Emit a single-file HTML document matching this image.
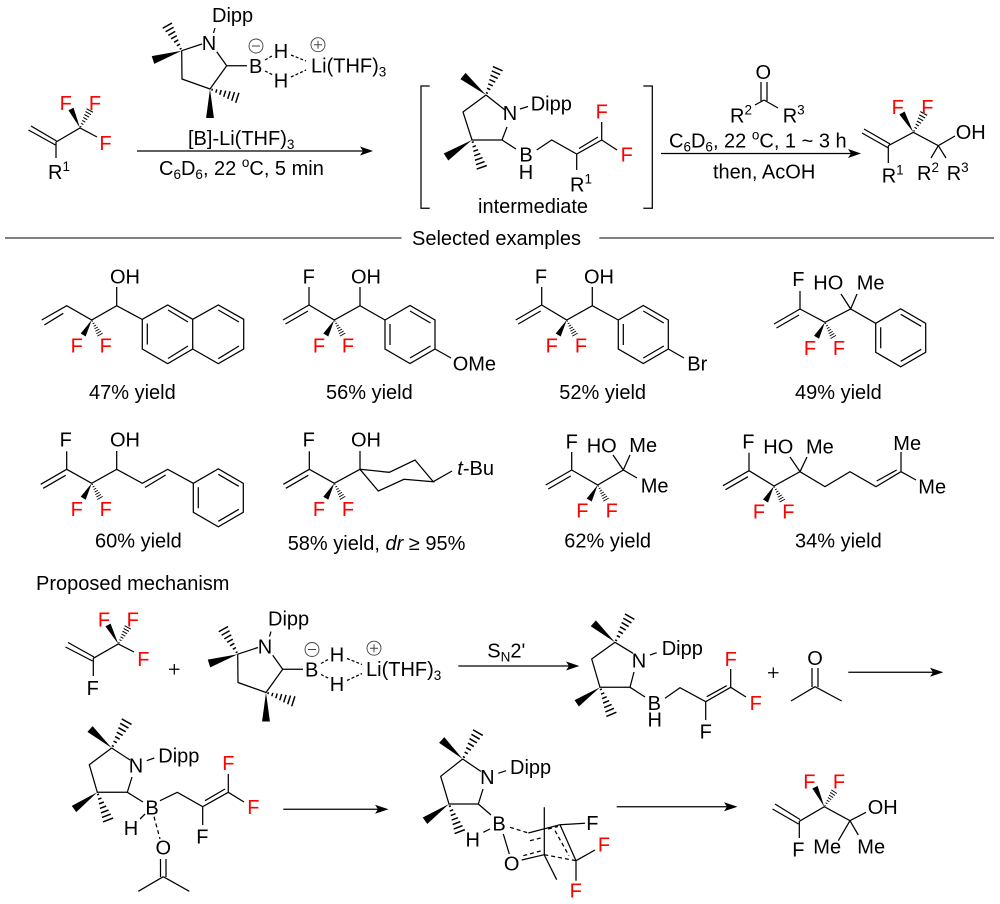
<!DOCTYPE html>
<html><head><meta charset="utf-8"><title>Diagram</title>
<style>
html,body{margin:0;padding:0;background:#fff}
svg{display:block}
text{font-family:"Liberation Sans",Arial,sans-serif;font-size:20px;fill:#000}
.m{text-anchor:middle}
.r{fill:#f00}
.s{font-size:13.5px}
.l line,.l polyline,.l path,.l use{stroke:#000;stroke-width:1.25;fill:none}
.d{stroke-dasharray:4 3}
.a{fill:#000;stroke:none}
</style></head><body>
<svg width="1000" height="904" viewBox="0 0 1000 904" xmlns="http://www.w3.org/2000/svg">
<defs>
<polygon id="w" points="0,0 20,-2.7 20,2.7" fill="#000" stroke="none"/>
<g id="h" stroke="#000" stroke-width="1" fill="none">
<path d="M1.5,-.7V.7M4.5,-1.2V1.2M7.5,-1.7V1.7M10.5,-2.2V2.2M13.5,-2.7V2.7M16.5,-3.1V3.1M19.5,-3.6V3.6"/>
</g>
<g id="cf"><polygon points="0,0 -11,13.5 -6,16.5" fill="#000"/><use href="#h" transform="matrix(.425 .75 -.75 .425 0 0)"/></g>
<g id="vf" stroke="#000" stroke-width="1.25" fill="none"><path d="M0,0L-26,15M-1,6L-23.5,19M0,0V-18"/></g>
<g id="ph" stroke="#000" stroke-width="1.25" fill="none"><path d="M0,0L25,-14.5L50,0V29L25,43.5L0,29ZM5,4V25M25,-9L45.5,3M45.5,26L25,38"/></g>
</defs>

<g class="l">
<!-- rules -->
<path d="M5,238H401.5M599.3,238H994" style="stroke:#333;stroke-width:1.3"/>
<!-- SM -->
<path d="M28.5,130L55.5,145M31,126L56.5,141M56,142L80,128L97,137M56,142V158"/>
<!-- brackets -->
<path d="M429.7,86H421V208.3H429.7M643.3,86H652.3V208.3H643.3"/>
<!-- arrows -->
<path d="M137,151H365M661,153.5H853M458.3,666H572M848.3,672.3H936M283.3,809.3H381M616.7,806.7H730"/>
<!-- intermediate -->
<path d="M486,95L505,110M486,95L463,112L472,140H502L507,127M502,140L516,149M520,109L528,106.5M536.7,150L551.7,140L576.7,154L601.7,140M579,148.5L598,137M576.7,154V170M601.7,140V122M601.7,140L617,150"/>
<!-- ketone -->
<path d="M761,82V101M767,82V101M764,100L755,105M764,100L778,108"/>
<!-- product -->
<path d="M862,133L888.5,148M864,129L890,144M888.3,145.7L913.3,132.3L938.3,145.7L955,136M888.3,145.7V163M938.3,145.7L931,158M938.3,145.7L946,158"/>
<!-- ex1 -->
<path d="M41.7,320L66.7,305.7L91.7,320L116.7,305.7L142.3,319.5M44.3,325L63.3,313.3M116.7,305.7V287"/>
<path d="M142.3,319.3L167.7,305L192.7,319.3V349L167.7,363.7L142.3,349ZM192.7,319.3L218.3,305L243.7,319.3V349L218.3,363.7L192.7,349M147.3,323.5V344.5M168,310L188,322M188,346L168,358.5M218.3,310L239,322M239,346L218.3,358.7"/>
<!-- ex2 -->
<path d="M309,305L334.3,320L360,305.7L385,320M360,305.7V287M435,349L451,358"/>
<!-- ex3 -->
<path d="M541.7,305L566.7,320L592.3,305.7L618.3,320M592.3,305.7V287M668.3,349L684,358"/>
<!-- ex4 -->
<path d="M800,309L825,322.3L850.7,309L875.7,323.3M850.7,309L841,294M850.7,309L857,294"/>
<!-- ex5 -->
<path d="M66.7,469.3L91.7,483.3L116.7,469.3L142.3,483.3L167.7,469.3L193.3,483.3M116.7,469.3V451M145,487.5L165.7,475"/>
<!-- ex6 -->
<path d="M309.3,469.3L334.3,483.3L360,469.3L389.3,472.3L415,460L433.3,481.7L404,479.3L378.3,491L360,469.3M360,469.3V451M433.3,481.7L452,471"/>
<!-- ex7 -->
<path d="M571.7,470L597.7,485L623.3,470L637,478M623.3,470L613,455M623.3,470L630,455"/>
<!-- ex8 -->
<path d="M749,470.7L774,486L800,471.7L825,486.7L850,471.7L876,486.7L901,471.7V452M901,471.7L916,480M800,471.7L790,457M800,471.7L807,457M876.7,481L896.7,470"/>
<!-- mech CF3 -->
<path d="M65.5,647L92.5,661M68,642.5L94,657M93.3,658.3L118.3,644L134,652M93.3,658.3V676"/>
<path d="M174.3,664V674.5M169,669.3H179.5"/>
<!-- mech int -->
<path d="M615,642.3L633,653.3M615,642.3L591.7,659L600,687.3H630L634,672M630,687.3L645,697M650,655L656.7,652.7M665,698.3L680,687.7L705.7,701.7L730.7,687.3M706.7,696.7L726.7,685.7M705.7,701.7V720M730.7,687.3V669M730.7,687.3L746,697"/>
<path d="M773.3,667.5V678M768,672.7H778.5"/>
<path d="M812,668V687M818,668V687M815,686.7L791,701M815,686.7L841.7,701"/>
<!-- row 3 left -->
<path d="M111.7,748L130,760M111.7,748L89.3,764.7L97.3,792.3H127.3L132,777M127.3,792.3L143,802M146.7,760.7L154.3,758M160,800.7L177.3,792.3L202.7,806.7L228.3,792.3M205,800.7L225,789M202.7,806.7V825M228.3,792.3V774M228.3,792.3L244,802"/>
<path d="M140,819L145,814"/><path class="d" d="M154,816.7L160,839"/>
<path d="M160.5,859V877M166,859V877M163.3,876.7L138.3,891.3M163.3,876.7L189.3,891.3"/>
<!-- TS -->
<path d="M462.7,759L481,771.5M462.7,759L440.7,776.3L449,804H478.3L483,789M478.3,804L491,815M498.3,773.3L506,770.7M483.3,832.3L490,829M503.3,834L509.3,854"/>
<path d="M528.3,833L560,824.7L585,823.3M560,824.7L576,860.7L595,850M576,860.7V880.7M544.3,807.3V855L556.7,879.7M521.7,860L544.3,854.7"/>
<path class="d" d="M510,827.3L528.3,833M555,830.7L569,855.7M523.3,855.7L541.7,850.7M530,840.7L543.3,837.3M548,829L558,826.5M544.3,854.7L576,860.7"/>
<!-- final -->
<path d="M772.5,809L798.5,824M775,804L800,819.5M799.3,821.3L824.3,806.7L850,820.7L866,812.3M799.3,821.3V838M850,820.7L838.3,840.7M850,820.7L858.3,835"/>
<!-- reagent 1 & 2 -->
<path d="M213.5,33L215,28M181.7,50.7L202,44M181.7,50.7L182,79L210,89L226.7,65.7L216.7,51.7M226.7,65.7H247"/>
<path transform="translate(56,603.5)" d="M213.5,33L215,28M181.7,50.7L202,44M181.7,50.7L182,79L210,89L226.7,65.7L216.7,51.7M226.7,65.7H247"/>
<path stroke-dasharray="3 2" d="M265,60L272,56M265,71L273,75M291,55L306,61M291,77L306,70"/>
<path transform="translate(56,603.5)" stroke-dasharray="3 2" d="M265,60L272,56M265,71L273,75M291,55L306,61M291,77L306,70"/>
</g>
<circle cx="256" cy="46" r="7" fill="none" stroke="#444" stroke-width=".9"/><path d="M252,46H260" stroke="#444"/>
<circle cx="318" cy="44.7" r="7" fill="none" stroke="#444" stroke-width=".9"/><path d="M314,44.7H322M318,40.7V48.7" stroke="#444"/>
<circle cx="312" cy="649.5" r="7" fill="none" stroke="#444" stroke-width=".9"/><path d="M308,649.5H316" stroke="#444"/>
<circle cx="374" cy="648.2" r="7" fill="none" stroke="#444" stroke-width=".9"/><path d="M370,648.2H378M374,644.2V652.2" stroke="#444"/>

<!-- arrow heads -->
<polygon class="a" points="373,151 360,146.5 363,151 360,155.5"/>
<polygon class="a" points="861,153.5 848,149 851,153.5 848,158"/>
<polygon class="a" points="579.3,666 566,661.5 569,666 566,670.5"/>
<polygon class="a" points="943.3,672.3 930,667.8 933,672.3 930,676.8"/>
<polygon class="a" points="388.5,809.3 375,804.8 378,809.3 375,813.8"/>
<polygon class="a" points="737.5,806.7 724,802.2 727,806.7 724,811.2"/>

<!-- wedges and hashes -->
<use href="#w" transform="matrix(-.45 -.95 .95 -.45 80 128)"/><use href="#h" transform="matrix(.5 -.9 .9 .5 80 128)"/>
<use href="#w" transform="matrix(-1.435 .465 -.465 -1.435 181.7 50.7)"/><use href="#h" transform="matrix(-.735 -1.285 1.285 -.735 181.7 50.7)"/>
<use href="#w" transform="matrix(0 1.45 -1.45 0 210 89)"/><use href="#h" transform="matrix(1.4 .45 -.45 1.4 210 89)"/>
<use href="#w" transform="matrix(-1.435 .465 -.465 -1.435 237.7 654.2)"/><use href="#h" transform="matrix(-.735 -1.285 1.285 -.735 237.7 654.2)"/>
<use href="#w" transform="matrix(0 1.45 -1.45 0 266 692.5)"/><use href="#h" transform="matrix(1.4 .45 -.45 1.4 266 692.5)"/>
<use href="#w" transform="matrix(-1.15 -.95 .95 -1.15 486 95)"/><use href="#h" transform="matrix(.6 -1.35 1.35 .6 486 95)"/>
<use href="#w" transform="matrix(-1.3 .85 -.85 -1.3 472 140)"/><use href="#h" transform="matrix(.5 1.4 -1.4 .5 472 140)"/>
<use href="#w" transform="matrix(-.565 -.965 .965 -.565 913.3 132.3)"/><use href="#h" transform="matrix(.535 -.965 .965 .535 913.3 132.3)"/>
<use href="#w" transform="matrix(-.515 -.95 .95 -.515 118.3 644)"/><use href="#h" transform="matrix(.485 -.85 .85 .485 118.3 644)"/>
<use href="#w" transform="matrix(-1.085 -.95 .95 -1.085 615 642.3)"/><use href="#h" transform="matrix(.75 -1.315 1.315 .75 615 642.3)"/>
<use href="#w" transform="matrix(-1.165 .8 -.8 -1.165 600 687.3)"/><use href="#h" transform="matrix(.585 1.385 -1.385 .585 600 687.3)"/>
<use href="#w" transform="matrix(-1.085 -.95 .95 -1.085 111.7 748)"/><use href="#h" transform="matrix(.765 -1.35 1.35 .765 111.7 748)"/>
<use href="#w" transform="matrix(-1.165 .835 -.835 -1.165 97.3 792.3)"/><use href="#h" transform="matrix(.55 1.42 -1.42 .55 97.3 792.3)"/>
<use href="#w" transform="matrix(-1.05 -.95 .95 -1.05 462.7 759)"/><use href="#h" transform="matrix(.78 -1.35 1.35 .78 462.7 759)"/>
<use href="#w" transform="matrix(-1.2 .835 -.835 -1.2 449 804)"/><use href="#h" transform="matrix(.55 1.415 -1.415 .55 449 804)"/>
<use href="#w" transform="matrix(-.465 -.97 .97 -.465 824.3 806.7)"/><use href="#h" transform="matrix(.5 -.77 .77 .5 824.3 806.7)"/>
<use href="#cf" x="91.7" y="320"/><use href="#cf" x="334.3" y="320"/><use href="#cf" x="566.7" y="320"/><use href="#cf" x="825" y="322.3"/>
<use href="#cf" x="91.7" y="483.3"/><use href="#cf" x="334.3" y="483.3"/><use href="#cf" x="597.7" y="485"/><use href="#cf" x="774" y="486"/>
<use href="#vf" x="309" y="305"/><use href="#vf" x="541.7" y="305"/><use href="#vf" x="800" y="309"/>
<use href="#vf" x="66.7" y="469.3"/><use href="#vf" x="309.3" y="469.3"/><use href="#vf" x="571.7" y="470"/><use href="#vf" x="749" y="470.7"/>
<use href="#ph" x="385" y="320"/><use href="#ph" x="618.3" y="320"/><use href="#ph" x="875.7" y="323.3"/><use href="#ph" x="193.3" y="483.3"/>

<!-- top row labels -->
<text class="m r" x="65.7" y="110">F</text><text class="m r" x="95" y="110">F</text><text class="m r" x="105.5" y="150">F</text>
<text x="48" y="179">R<tspan class="s" dy="-8">1</tspan></text>
<text x="212" y="22">Dipp</text><text class="m" x="209" y="50">N</text><text class="m" x="255.7" y="73">B</text>
<text class="m" x="281" y="58">H</text><text class="m" x="281" y="87.5">H</text>
<text x="311" y="72.7">Li(THF)<tspan class="s" dy="4">3</tspan></text>
<text x="188" y="145">[B]-Li(THF)<tspan class="s" dy="4">3</tspan></text>
<text x="159" y="175">C<tspan class="s" dy="4">6</tspan><tspan dy="-4">D</tspan><tspan class="s" dy="4">6</tspan><tspan dy="-4">, 22 </tspan><tspan class="s" dy="-8">o</tspan><tspan dy="8">C, 5 min</tspan></text>
<text class="m" x="510" y="120">N</text><text x="530.7" y="110.7">Dipp</text>
<text class="m" x="526" y="161.7">B</text><text class="m" x="526" y="179">H</text>
<text x="570" y="191.7">R<tspan class="s" dy="-8">1</tspan></text>
<text class="m r" x="601.7" y="118.3">F</text><text class="m r" x="626.7" y="161.7">F</text>
<text x="478" y="213">intermediate</text>
<text class="m" x="763.3" y="79">O</text>
<text x="730" y="122.7">R<tspan class="s" dy="-8">2</tspan></text><text x="782.7" y="122.7">R<tspan class="s" dy="-8">3</tspan></text>
<text x="669" y="147.3">C<tspan class="s" dy="4">6</tspan><tspan dy="-4">D</tspan><tspan class="s" dy="4">6</tspan><tspan dy="-4">, 22 </tspan><tspan class="s" dy="-8">o</tspan><tspan dy="8">C, 1 ~ 3 h</tspan></text>
<text x="713" y="178.3">then, AcOH</text>
<text class="m r" x="897.7" y="114">F</text><text class="m r" x="927.3" y="114">F</text>
<text x="955.7" y="139">OH</text>
<text x="881.7" y="182.7">R<tspan class="s" dy="-8">1</tspan></text>
<text x="917" y="180">R<tspan class="s" dy="-8">2</tspan></text>
<text x="946.7" y="180">R<tspan class="s" dy="-8">3</tspan></text>
<text x="412" y="245">Selected examples</text>

<!-- row 1 -->
<text x="110" y="283.3">OH</text><text class="m r" x="76.7" y="352.7">F</text><text class="m r" x="105.7" y="352.7">F</text>
<text x="89" y="399">47% yield</text>
<text class="m" x="308.7" y="283.3">F</text><text class="m" x="366" y="283.3">OH</text><text class="m r" x="319" y="352.7">F</text><text class="m r" x="348" y="352.7">F</text><text x="452.7" y="370.7">OMe</text>
<text x="326" y="399">56% yield</text>
<text class="m" x="541" y="283.3">F</text><text class="m" x="599" y="283.3">OH</text><text class="m r" x="551.7" y="352.7">F</text><text class="m r" x="581" y="352.7">F</text><text x="687.3" y="370.7">Br</text>
<text x="559.3" y="399">52% yield</text>
<text class="m" x="798.3" y="286">F</text><text x="813.3" y="289.3">HO</text><text x="856.7" y="289.3">Me</text><text class="m r" x="810" y="355">F</text><text class="m r" x="839" y="355">F</text>
<text x="795" y="399">49% yield</text>

<!-- row 2 -->
<text class="m" x="65.7" y="446.7">F</text><text x="110" y="446.7">OH</text><text class="m r" x="76.7" y="516">F</text><text class="m r" x="105.7" y="516">F</text>
<text x="95" y="547.7">60% yield</text>
<text class="m" x="308.7" y="446.7">F</text><text class="m" x="366" y="446.7">OH</text><text class="m r" x="319" y="516">F</text><text class="m r" x="348" y="516">F</text>
<text x="457.3" y="475"><tspan font-style="italic">t</tspan>-Bu</text>
<text x="287.7" y="550">58% yield, <tspan font-style="italic">dr</tspan> ≥ 95%</text>
<text class="m" x="571.7" y="448.3">F</text><text x="586.7" y="452.3">HO</text><text x="629.3" y="452">Me</text><text x="640.7" y="492.7">Me</text><text class="m r" x="582.3" y="517.7">F</text><text class="m r" x="611.7" y="517.7">F</text>
<text x="564.3" y="547.7">62% yield</text>
<text class="m" x="748.3" y="448.3">F</text><text x="763.3" y="453.3">HO</text><text x="806" y="453.3">Me</text><text x="893.3" y="450">Me</text><text x="918.3" y="493.3">Me</text><text class="m r" x="759" y="518.3">F</text><text class="m r" x="788.3" y="518.3">F</text>
<text x="795" y="547.7">34% yield</text>

<!-- mechanism -->
<text x="36" y="590">Proposed mechanism</text>
<text class="m r" x="104" y="626.7">F</text><text class="m r" x="132.7" y="626.7">F</text><text class="m r" x="143.3" y="666">F</text><text class="m" x="92.7" y="695">F</text>
<text x="268" y="625.5">Dipp</text><text class="m" x="265" y="653.5">N</text><text class="m" x="311.7" y="676.5">B</text>
<text class="m" x="337" y="661.5">H</text><text class="m" x="337" y="691">H</text>
<text x="366" y="676.2">Li(THF)<tspan class="s" dy="4">3</tspan></text>
<text x="487.3" y="657.5">S<tspan class="s" dy="4">N</tspan><tspan dy="-4">2'</tspan></text>
<text class="m" x="639" y="667.7">N</text><text x="661.7" y="655">Dipp</text><text class="m" x="654.3" y="710">B</text><text class="m" x="654.7" y="726.7">H</text>
<text class="m" x="705.7" y="738.3">F</text><text class="m r" x="730.7" y="666">F</text><text class="m r" x="755.7" y="710">F</text>
<text class="m" x="815" y="665">O</text>

<text class="m" x="136" y="772.3">N</text><text x="158.3" y="762.3">Dipp</text><text class="m" x="152" y="814.7">B</text><text class="m" x="131" y="835">H</text>
<text class="m" x="163.3" y="854.7">O</text><text class="m" x="202.3" y="843.3">F</text><text class="m r" x="228.3" y="770">F</text><text class="m r" x="253.3" y="814">F</text>

<text class="m" x="487.3" y="784">N</text><text x="510" y="774">Dipp</text><text class="m" x="499" y="830.7">B</text><text class="m" x="472.7" y="846.7">H</text>
<text class="m" x="511.7" y="870.7">O</text><text class="m" x="592.3" y="830">F</text><text class="m r" x="604" y="851.3">F</text><text class="m r" x="575.7" y="897.3">F</text>

<text class="m r" x="809.3" y="788.3">F</text><text class="m r" x="839" y="788.3">F</text><text x="867.7" y="814">OH</text>
<text class="m" x="798.3" y="856.7">F</text><text x="813.3" y="853.3">Me</text><text x="857.3" y="853.3">Me</text>
</svg>
</body></html>
